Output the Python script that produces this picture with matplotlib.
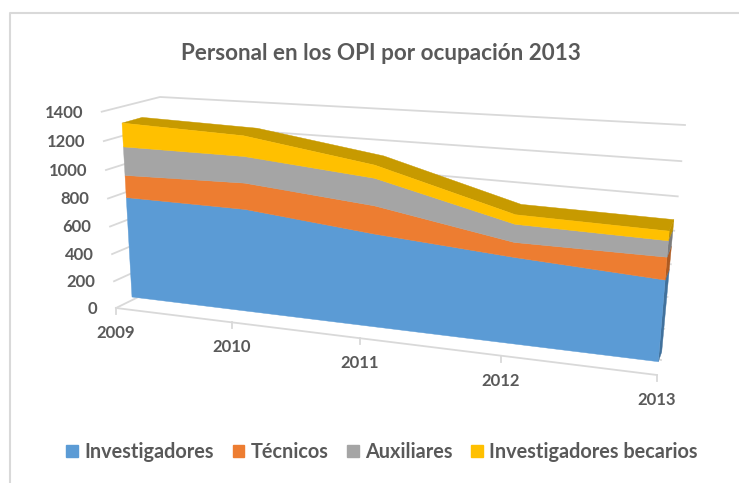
import matplotlib
matplotlib.use('Agg')
import matplotlib.pyplot as plt
from matplotlib.patches import Patch, Polygon
from matplotlib.transforms import Transform
import numpy as np

years = ['2009', '2010', '2011', '2012', '2013']
series_names = ['Investigadores', 'Técnicos', 'Auxiliares', 'Investigadores becarios']
investigadores = [769, 760, 669, 600, 548]
tecnicos = [166, 190, 197, 101, 149]
auxiliares = [211, 190, 190, 122, 106]
becarios = [174, 146, 90, 64, 62]
value_ticks = [0, 200, 400, 600, 800, 1000, 1200, 1400]

colors = ['#5B9BD5', '#ED7D31', '#A5A5A5', '#FFC000']
side_colors = ['#41719C', '#AE5A21', '#7C7C7C', '#BF9000']
top_color = '#C79A00'
grid_color = '#D9D9D9'
text_color = '#595959'

plt.rcParams['font.family'] = ['Lato', 'DejaVu Sans']


class PlaneTransform(Transform):
    """perspective map of a plane (category index, value) to pixels"""
    input_dims = 2
    output_dims = 2

    def __init__(self, corners):
        super().__init__()
        src = [(0, 0), (4, 0), (0, 1400), (4, 1400)]
        a, b = [], []
        for (u, v), (px, py) in zip(src, corners):
            a.append([u, v, 1, 0, 0, 0, -u * px, -v * px])
            a.append([0, 0, 0, u, v, 1, -u * py, -v * py])
            b += [px, py]
        h = np.linalg.solve(np.array(a, float), np.array(b, float))
        self.h = np.append(h, 1).reshape(3, 3)

    def transform_non_affine(self, values):
        pts = np.column_stack([values, np.ones(len(values))]) @ self.h.T
        return pts[:, :2] / pts[:, 2:]


fig = plt.figure(figsize=(7.39, 4.83), dpi=100)
ax = fig.add_axes([0, 0, 1, 1])
ax.set_xlim(0, 739)
ax.set_ylim(483, 0)
ax.axis('off')

# planes, in pixels of the picture
wall_front = PlaneTransform([(116, 308), (657, 375), (101.7, 111.7), (677, 137)])
wall_back = PlaneTransform([(175, 279), (661, 360), (160, 97), (685, 125)])
block_front = PlaneTransform([(132, 297), (658.3, 361.7), (121.4, 112), (676.3, 145.7)])
block_back = PlaneTransform([(154, 289), (661.7, 352), (141.4, 106.4), (681.9, 132)])

# chart frame
ax.plot([10, 10, 739], [483, 12.5, 12.5], color='#D9D9D9', lw=1.5)

# walls
for v in value_ticks:
    left = wall_front.transform_non_affine(np.array([[0, v]]))[0]
    corner = wall_back.transform_non_affine(np.array([[0, v], [4, v]]))
    ax.plot([left[0], corner[0][0], corner[1][0]], [left[1], corner[0][1], corner[1][1]],
            color=grid_color, lw=1.3, zorder=1)
    ax.text(left[0] - 18.5, left[1] + 1, str(v), ha='right', va='center', fontsize=12,
            fontweight='bold', color=text_color)

floor = wall_front.transform_non_affine(np.array([[i, 0] for i in range(5)], float))
ax.plot(floor[:, 0], floor[:, 1], color=grid_color, lw=1.3, zorder=1)
for i, (x, y) in enumerate(floor):
    ax.plot([x, x], [y, y + 6], color=grid_color, lw=1.3, zorder=1)
    ax.text(x, y + 25, years[i], ha='center', va='center', fontsize=12,
            fontweight='bold', color=text_color)

# stacked block
x = np.arange(5, dtype=float)
values = np.array([investigadores, tecnicos, auxiliares, becarios], float)
tops = np.cumsum(values, axis=0)
bases = np.vstack([np.zeros(5), tops[:-1]])

for i in range(4):
    front_lo = block_front.transform_non_affine(np.column_stack([x, bases[i]]))
    front_hi = block_front.transform_non_affine(np.column_stack([x, tops[i]]))
    back_lo = block_back.transform_non_affine(np.column_stack([x, bases[i]]))
    back_hi = block_back.transform_non_affine(np.column_stack([x, tops[i]]))
    # right side
    ax.add_patch(Polygon([front_lo[-1], back_lo[-1], back_hi[-1], front_hi[-1]],
                         fc=side_colors[i], ec=side_colors[i], lw=0.3, zorder=2))
    # front
    ax.add_patch(Polygon(np.vstack([front_lo, front_hi[::-1]]),
                         fc=colors[i], ec=colors[i], lw=0.3, zorder=4))
    if i == 3:
        ax.add_patch(Polygon(np.vstack([front_hi, back_hi[::-1]]),
                             fc=top_color, ec=top_color, lw=0.3, zorder=3))

ax.text(381, 53, 'Personal en los OPI por ocupación 2013', ha='center', va='center',
        fontsize=16.2, fontweight='bold', color=text_color)

handles = [Patch(fc=c, ec=c) for c in colors]
ax.legend(handles, series_names, ncol=4, loc='center', bbox_to_anchor=(382 / 739, 1 - 452 / 483),
          frameon=False, handlelength=0.6, handleheight=0.6, handletextpad=0.3,
          columnspacing=0.95, labelcolor=text_color, prop={'weight': 'bold', 'size': 14.3})

fig.savefig('out.png', dpi=100)
